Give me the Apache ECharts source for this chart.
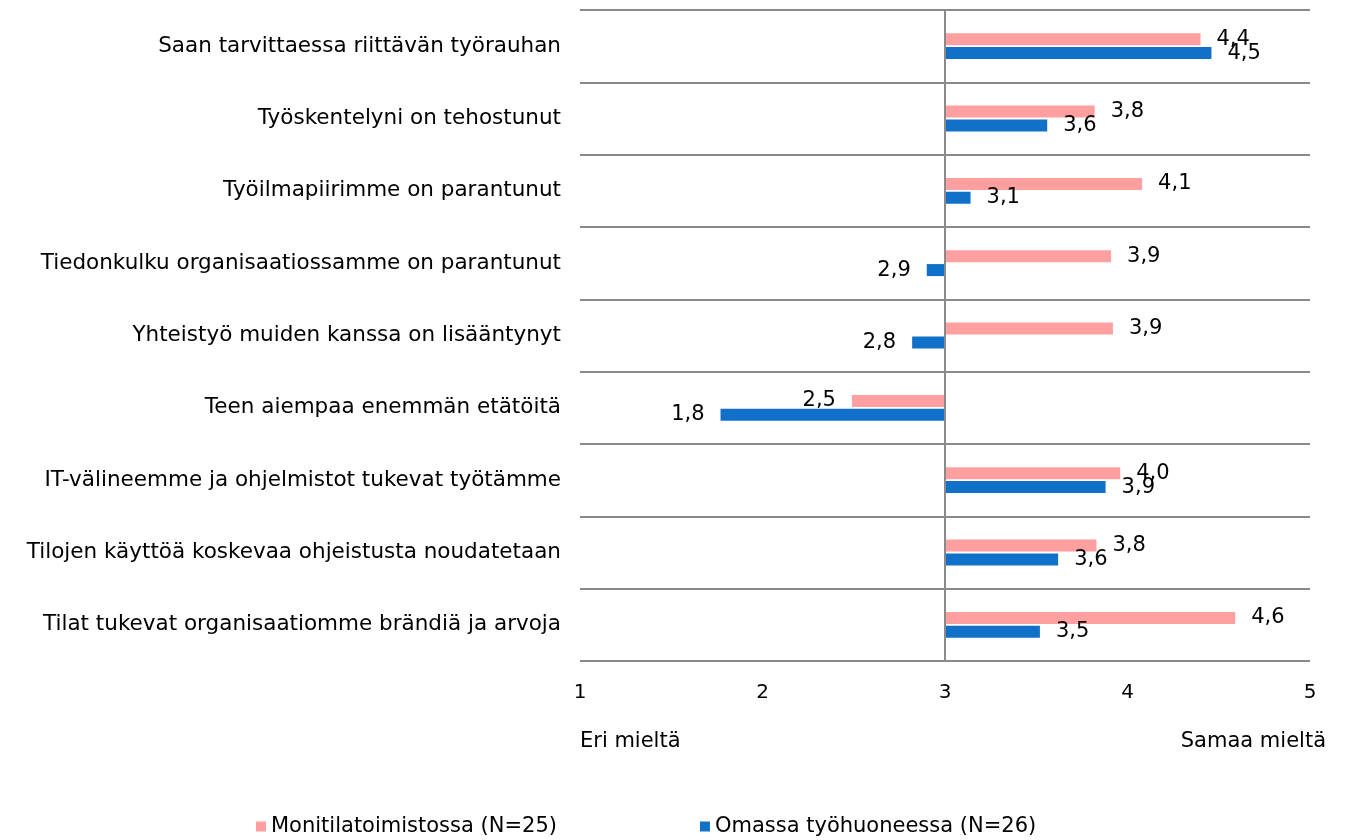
<!DOCTYPE html>
<html>
<head>
<meta charset="utf-8">
<script src="https://cdn.jsdelivr.net/npm/echarts@6/dist/echarts.min.js"></script>
<style>
  html, body { margin: 0; padding: 0; background: #fff; }
  #chart { width: 1357px; height: 840px; }
</style>
</head>
<body>
<div id="chart"></div>
<script>
// Statements (top to bottom)
const categories = [
  'Saan tarvittaessa riittävän työrauhan',
  'Työskentelyni on tehostunut',
  'Työilmapiirimme on parantunut',
  'Tiedonkulku organisaatiossamme on parantunut',
  'Yhteistyö muiden kanssa on lisääntynyt',
  'Teen aiempaa enemmän etätöitä',
  'IT-välineemme ja ohjelmistot tukevat työtämme',
  'Tilojen käyttöä koskevaa ohjeistusta noudatetaan',
  'Tilat tukevat organisaatiomme brändiä ja arvoja'
];
// Mean scores on a 1–5 agreement scale
const monitila = [4.40, 3.82, 4.08, 3.91, 3.92, 2.49, 3.96, 3.83, 4.59];
const omaHuone = [4.46, 3.56, 3.14, 2.90, 2.82, 1.77, 3.88, 3.62, 3.52];
const seriesNames = ['Monitilatoimistossa (N=25)', 'Omassa työhuoneessa (N=26)'];
const scaleTicks = [1, 2, 3, 4, 5];
const scaleEnds = ['Eri mieltä', 'Samaa mieltä'];

// Bars grow out from the scale midpoint
const MID = 3;
const FONT = 'DejaVu Sans, Verdana, sans-serif';
const fmt = v => v.toFixed(1).replace('.', ',');

function toItems(values) {
  return values.map(v => ({
    value: +(v - MID).toFixed(4),
    raw: v,
    label: { position: v < MID ? 'left' : 'right' }
  }));
}

const chart = echarts.init(document.getElementById('chart'), null, { renderer: 'canvas' });

const labelStyle = {
  show: true,
  distance: 16,
  color: '#000',
  fontFamily: FONT,
  fontSize: 21,
  formatter: p => fmt(p.data.raw)
};

chart.setOption({
  animation: false,
  textStyle: { fontFamily: FONT },
  grid: { left: 580, right: 47, top: 10, bottom: 179, containLabel: false },
  legend: {
    data: seriesNames,
    left: 251,
    top: 811,
    itemWidth: 10,
    itemHeight: 10,
    itemGap: 143,
    icon: 'rect',
    textStyle: { fontFamily: FONT, fontSize: 21, color: '#000' }
  },
  xAxis: {
    type: 'value',
    min: scaleTicks[0] - MID,
    max: scaleTicks[scaleTicks.length - 1] - MID,
    interval: 1,
    axisLine: { show: false },
    axisTick: { show: false },
    splitLine: { show: false },
    axisLabel: {
      margin: 22,
      color: '#000',
      fontFamily: FONT,
      fontSize: 20,
      formatter: v => String(v + MID)
    }
  },
  yAxis: {
    type: 'category',
    inverse: true,
    data: categories,
    axisLine: { show: false },
    axisTick: { show: false },
    axisLabel: {
      margin: 19,
      color: '#000',
      fontFamily: FONT,
      fontSize: 21.5
    },
    splitLine: { show: true, interval: 0, lineStyle: { color: '#8a8a8a', width: 2 } }
  },
  graphic: [
    {
      type: 'text', left: 580, top: 731,
      style: { text: scaleEnds[0], font: '21px ' + FONT, fill: '#000' }
    },
    {
      type: 'text', right: 31, top: 731,
      style: { text: scaleEnds[1], font: '21px ' + FONT, fill: '#000' }
    }
  ],
  series: [
    {
      name: seriesNames[0],
      type: 'bar',
      data: toItems(monitila),
      barWidth: 12,
      barGap: '15%',
      itemStyle: { color: '#ff9f9f' },
      label: labelStyle,
      markLine: {
        silent: true,
        symbol: 'none',
        label: { show: false },
        lineStyle: { color: '#8a8a8a', width: 2, type: 'solid' },
        data: [{ xAxis: 0 }]
      }
    },
    {
      name: seriesNames[1],
      type: 'bar',
      data: toItems(omaHuone),
      barWidth: 12,
      barGap: '15%',
      itemStyle: { color: '#1170c8' },
      label: labelStyle
    }
  ]
});
</script>
</body>
</html>
